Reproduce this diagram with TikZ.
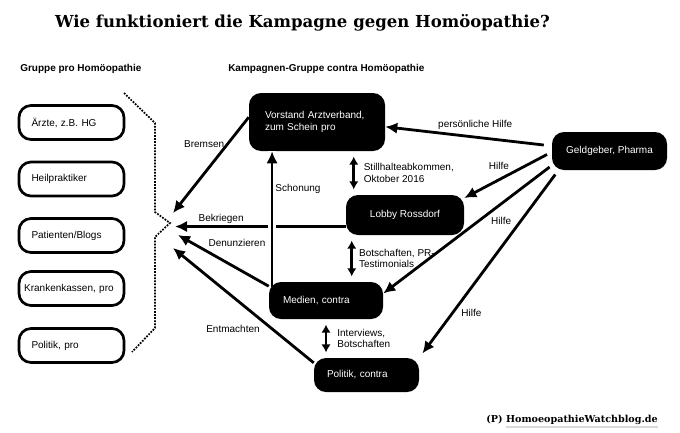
\documentclass[tikz,border=0pt]{standalone}
\usepackage{fontspec}
\setmainfont{Liberation Sans}
\newfontfamily\slabfont{DejaVu Serif}
\usetikzlibrary{arrows.meta}
\tikzset{
  probox/.style={draw, line width=2pt, rounded corners=9pt, minimum width=78.75pt, minimum height=25.5pt, text width=60pt, align=left, inner sep=0pt},
  kampbox/.style={fill=black, text=white, rounded corners=9pt, inner sep=0pt},
  pfeil/.style={line width=2.1pt, -{Latex[length=9pt,width=8.5pt]}},
  doppel/.style={line width=2.1pt, {Latex[length=6pt,width=7pt]}-{Latex[length=6pt,width=7pt]}, shorten <=4pt, shorten >=4pt},
  lbl/.style={inner sep=1.5pt},
  klammer/.style={densely dotted, line width=1.3pt},
  kopf/.style={anchor=west, inner sep=0pt, font=\bfseries\fontsize{7.5}{8.5}\selectfont}
}

\begin{document}
\begin{tikzpicture}[x=0.75pt, y=-0.75pt, every node/.style={font=\fontsize{7.5}{8.5}\selectfont}]
\useasboundingbox (0,0) rectangle (680,432);

\node[font=\slabfont\bfseries\fontsize{12.4}{14}\selectfont] (titel) at (302.5,23) {Wie funktioniert die Kampagne gegen Homöopathie?};
\node[kopf] (linkskopf) at (20,69) {Gruppe pro Homöopathie};
\node[kopf] (rechtskopf) at (228,69) {Kampagnen-Gruppe contra Homöopathie};

%pro
\node[probox] (aerzte) at (71.5,122.5) {Ärzte, z.B. HG};
\node[probox] (heil) at (71.5,179) {Heilpraktiker};
\node[probox] (patienten) at (71.5,235.5) {Patienten/Blogs};
\node[probox, text width=71pt] (kassen) at (71.5,288.5) {Krankenkassen,~pro};
\node[probox] (polpro) at (71.5,345.5) {Politik, pro};
\draw[klammer] (124,93) -- (155,123) -- (155,212) -- (170,223) -- (155,237) -- (155,328) -- (132,352);

%contra
\node[kampbox, minimum width=102pt, minimum height=43.5pt, text width=78pt, align=left] (vorstand) at (317,122) {Vorstand Arztverband,\\zum Schein pro};
\node[kampbox, minimum width=88.5pt, minimum height=30pt] (lobby) at (405,215) {Lobby Rossdorf};
\node[kampbox, minimum width=85.5pt, minimum height=27.75pt, text width=64.5pt, align=left] (medien) at (326,300.5) {Medien, contra};
\node[kampbox, minimum width=78.75pt, minimum height=25.5pt, text width=59.25pt, align=left] (politik) at (366.5,375) {Politik, contra};
\node[kampbox, minimum width=86.25pt, minimum height=28.5pt] (geld) at (609.5,151) {Geldgeber, Pharma};

\coordinate (zielA) at (173,213);
\coordinate (zielB) at (175,227);
\coordinate (zielC) at (178,235);
\coordinate (zielD) at (173,248);

\draw[pfeil] (vorstand.176) -- (zielA) node[lbl, pos=0.28, anchor=east] {Bremsen};
\draw[pfeil] (lobby.191) -- (lobby.191 -| zielB) node[lbl, pos=0.73, anchor=south] {Bekriegen};
\draw[pfeil, preaction={draw=white, line width=6pt, -, shorten <=6pt}] ([xshift=2.5pt, yshift=-4pt]medien.north west) -- ([xshift=2.5pt]medien.north west |- vorstand.south) node[lbl, pos=0.72, anchor=west] {Schonung};
\draw[pfeil] (medien.166) -- (zielC) node[lbl, pos=0.7, anchor=south west] {Denunzieren};
\draw[pfeil] (politik.167) -- (zielD) node[lbl, pos=0.36, anchor=north east] {Entmachten};

%Geldgeber
\draw[pfeil, shorten <=6pt] (geld.175) -- (vorstand.356) node[lbl, pos=0.46, above=3pt] {persönliche Hilfe};
\draw[pfeil, shorten <=4pt] (geld.181) -- (lobby.16) node[lbl, pos=0.45, anchor=south east] {Hilfe};
\draw[pfeil, shorten <=2pt] (geld.194) -- (medien.7) node[lbl, pos=0.38, anchor=north west] {Hilfe};
\draw[pfeil, shorten <=4pt, shorten >=4pt] ([xshift=5pt]geld.south west) -- (politik.north east) node[lbl, pos=0.76, anchor=west, xshift=4pt] {Hilfe};

\draw[doppel] ([xshift=6pt]lobby.north west) -- ([xshift=6pt]lobby.north west |- vorstand.south) node[lbl, midway, anchor=west, xshift=5pt, align=left] {Stillhalteabkommen,\\Oktober 2016};
\draw[doppel] ([xshift=4.5pt]lobby.south west) -- ([xshift=4.5pt]lobby.south west |- medien.north) node[lbl, midway, anchor=west, xshift=3pt, align=left] {Botschaften, PR-\\Testimonials};
\draw[doppel] (medien.south) -- (medien.south |- politik.north) node[lbl, midway, anchor=west, xshift=6pt, align=left] {Interviews,\\Botschaften};

\node[anchor=east, inner sep=0pt, font=\slabfont\bfseries\fontsize{7.2}{8}\selectfont] (quelle) at (658,420) {(P) HomoeopathieWatchblog.de};
\draw[black!15, line width=1.5pt] ([xshift=15pt, yshift=-1.5pt]quelle.south west) -- ([yshift=-1.5pt]quelle.south east);
\end{tikzpicture}
\end{document}
